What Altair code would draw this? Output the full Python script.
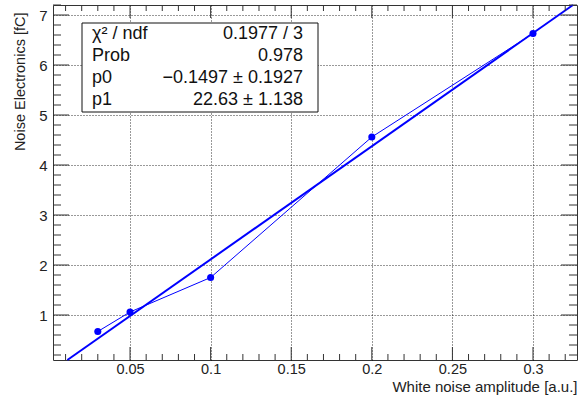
import altair as alt
import pandas as pd

# data
x_vals = [0.03, 0.05, 0.1, 0.2, 0.3]
y_vals = [0.67, 1.06, 1.75, 4.56, 6.63]

# fit line endpoints (p0 = -0.1497, p1 = 22.63), clipped to frame
fit_x = [0.0111, 0.3248]
fit_y = [0.1, 7.2]

x_major = [0.05, 0.1, 0.15, 0.2, 0.25, 0.3]
x_minor = [0.01, 0.02, 0.03, 0.04, 0.06, 0.07, 0.08, 0.09, 0.11, 0.12, 0.13, 0.14,
           0.16, 0.17, 0.18, 0.19, 0.21, 0.22, 0.23, 0.24, 0.26, 0.27, 0.28, 0.29,
           0.31, 0.32]
y_major = [1, 2, 3, 4, 5, 6, 7]
y_minor = [0.2, 0.4, 0.6, 0.8, 1.2, 1.4, 1.6, 1.8, 2.2, 2.4, 2.6, 2.8, 3.2, 3.4, 3.6, 3.8,
           4.2, 4.4, 4.6, 4.8, 5.2, 5.4, 5.6, 5.8, 6.2, 6.4, 6.6, 6.8, 7.2]

stat_names = ["χ² / ndf", "Prob", "p0", "p1"]
stat_values = ["0.1977 / 3", "0.978", "−0.1497 ± 0.1927", "22.63 ± 1.138"]

W, H = 524, 355
XDOM = [0.0022, 0.3273]
YDOM = [0.1, 7.2]
BLUE = "#0000ff"
FONT = "Liberation Sans"

xs = alt.Scale(domain=XDOM, nice=False, zero=False)
ys = alt.Scale(domain=YDOM, nice=False, zero=False)

pts = pd.DataFrame({"x": x_vals, "y": y_vals})
fit = pd.DataFrame({"x": fit_x, "y": fit_y})

x_axis = alt.Axis(values=x_major, grid=True, gridDash=[1, 2], gridColor="#000", gridOpacity=0.8,
                  domain=False, ticks=False, labelFont=FONT, labelFontSize=14.5, labelColor="#222",
                  labelPadding=2, format=".2~f",
                  title="White noise amplitude [a.u.]", titleFont=FONT, titleFontSize=15,
                  titleFontWeight="normal", titleColor="#222", titleAnchor="end", titleAlign="right",
                  titleX=W, titleY=31, titleBaseline="alphabetic")
y_axis = alt.Axis(values=y_major, grid=True, gridDash=[1, 2], gridColor="#000", gridOpacity=0.8,
                  domain=False, ticks=False, labelFont=FONT, labelFontSize=15, labelColor="#222",
                  labelPadding=6, format="d",
                  title="Noise Electronics [fC]", titleFont=FONT, titleFontSize=14.5,
                  titleFontWeight="normal", titleColor="#222", titleAngle=-90, titleAlign="right",
                  titleX=-29, titleY=7, titleBaseline="alphabetic")

base_line = alt.Chart(pts).mark_line(color=BLUE, strokeWidth=1).encode(
    x=alt.X("x:Q", scale=xs, axis=x_axis), y=alt.Y("y:Q", scale=ys, axis=y_axis))
points = alt.Chart(pts).mark_circle(color=BLUE, size=50, opacity=1).encode(
    x=alt.X("x:Q", scale=xs), y=alt.Y("y:Q", scale=ys))
fit_line = alt.Chart(fit).mark_line(color=BLUE, strokeWidth=2).encode(
    x=alt.X("x:Q", scale=xs), y=alt.Y("y:Q", scale=ys))

TC = "#333"
def xticks(vals, length):
    df = pd.DataFrame({"t": vals})
    bot = alt.Chart(df).mark_rule(color=TC, strokeWidth=1).encode(
        x=alt.X("t:Q", scale=xs), y=alt.value(H), y2=alt.value(H - length))
    top = alt.Chart(df).mark_rule(color=TC, strokeWidth=1).encode(
        x=alt.X("t:Q", scale=xs), y=alt.value(0), y2=alt.value(length))
    return [bot, top]

def yticks(vals, length):
    df = pd.DataFrame({"t": vals})
    left = alt.Chart(df).mark_rule(color=TC, strokeWidth=1).encode(
        y=alt.Y("t:Q", scale=ys), x=alt.value(0), x2=alt.value(length))
    right = alt.Chart(df).mark_rule(color=TC, strokeWidth=1).encode(
        y=alt.Y("t:Q", scale=ys), x=alt.value(W), x2=alt.value(W - length))
    return [left, right]

ticks = xticks(x_major, 13) + xticks(x_minor, 6) + yticks(y_major, 16) + yticks(y_minor, 8)

one = pd.DataFrame({"a": [0]})
box = alt.Chart(one).mark_rect(fill="white", stroke="#111", strokeWidth=1).encode(
    x=alt.value(29), x2=alt.value(265), y=alt.value(18), y2=alt.value(107))

texts = []
row_y = [29, 51, 73, 95]
for name, val, ry in zip(stat_names, stat_values, row_y):
    texts.append(alt.Chart(one).mark_text(text=name, font=FONT, fontSize=18, align="left",
                                          baseline="middle", color="#111").encode(
        x=alt.value(39), y=alt.value(ry)))
    texts.append(alt.Chart(one).mark_text(text=val, font=FONT, fontSize=18, align="right",
                                          baseline="middle", color="#111").encode(
        x=alt.value(250), y=alt.value(ry)))

chart = alt.layer(base_line, fit_line, points, *ticks, box, *texts).properties(
    width=W, height=H,
    autosize=alt.AutoSizeParams(type="none"),
    padding={"left": 53, "top": 5, "right": 1, "bottom": 35},
    background="white",
).configure_view(stroke="#333", strokeWidth=1)

chart.save("out.html", embed_options={"renderer": "svg", "actions": False})
